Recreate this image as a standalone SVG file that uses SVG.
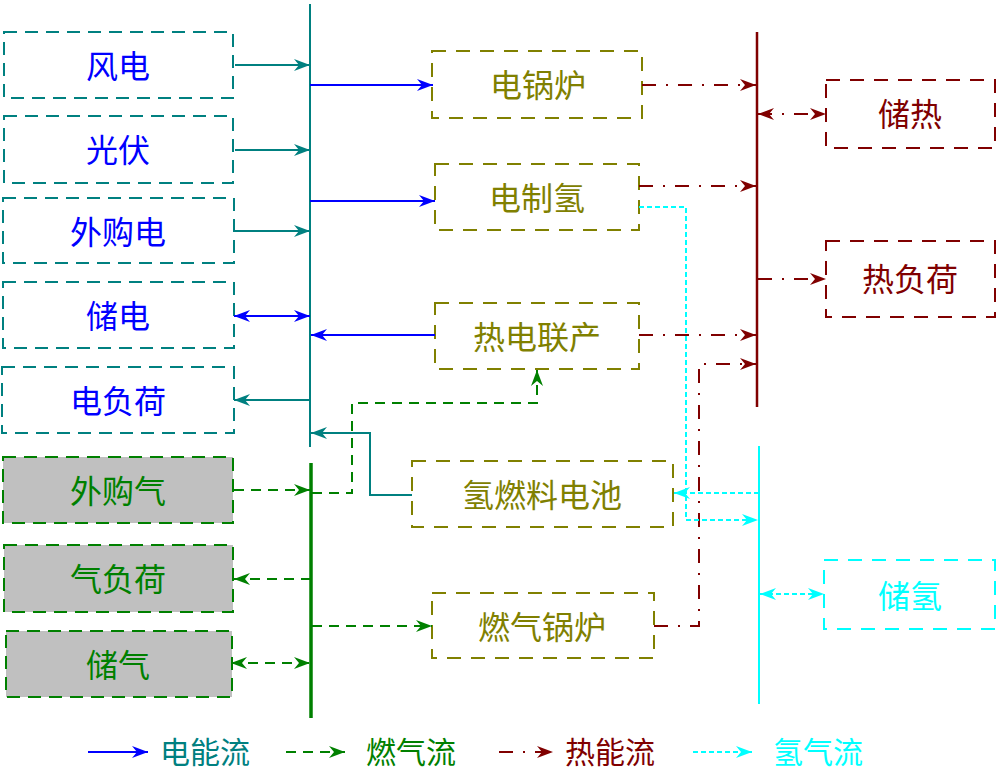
<svg xmlns="http://www.w3.org/2000/svg" width="1000" height="771" viewBox="0 0 1000 771">
<style>
text{font-family:"Noto Sans CJK SC","Noto Sans",sans-serif;font-size:32px;text-anchor:middle;dominant-baseline:central}
.lg{font-size:30px}
.nb{fill:#fff;stroke:#008080;stroke-width:2;stroke-dasharray:13 8}
.ng{fill:#C0C0C0;stroke:#008000;stroke-width:2;stroke-dasharray:13 8}
.no{fill:#fff;stroke:#808000;stroke-width:2;stroke-dasharray:14 10}
.nm{fill:#fff;stroke:#800000;stroke-width:2;stroke-dasharray:14 10}
.nc{fill:#fff;stroke:#00FFFF;stroke-width:2;stroke-dasharray:14 10}
.tb{fill:#0000FF}.tg{fill:#008000}.to{fill:#808000}.tm{fill:#800000}.tc{fill:#00FFFF}.tt{fill:#008080}
.c{fill:none;stroke-width:2}
.ce{stroke:#0000FF}
.ct{stroke:#008080}
.cg{stroke:#008000;stroke-dasharray:10 7}
.cm{stroke:#800000;stroke-dasharray:14 10 2 10}
.cc{stroke:#00FFFF;stroke-dasharray:5 3}
</style>
<defs>
<marker id="aB" markerUnits="userSpaceOnUse" markerWidth="16" markerHeight="12" refX="16" refY="6" orient="auto-start-reverse"><path d="M0,0 L16,6 L0,12 L5,6 z" fill="#0000FF"/></marker>
<marker id="aT" markerUnits="userSpaceOnUse" markerWidth="16" markerHeight="12" refX="16" refY="6" orient="auto-start-reverse"><path d="M0,0 L16,6 L0,12 L5,6 z" fill="#008080"/></marker>
<marker id="aG" markerUnits="userSpaceOnUse" markerWidth="16" markerHeight="12" refX="16" refY="6" orient="auto-start-reverse"><path d="M0,0 L16,6 L0,12 L5,6 z" fill="#008000"/></marker>
<marker id="aM" markerUnits="userSpaceOnUse" markerWidth="16" markerHeight="12" refX="16" refY="6" orient="auto-start-reverse"><path d="M0,0 L16,6 L0,12 L5,6 z" fill="#800000"/></marker>
<marker id="aC" markerUnits="userSpaceOnUse" markerWidth="16" markerHeight="12" refX="16" refY="6" orient="auto-start-reverse"><path d="M0,0 L16,6 L0,12 L5,6 z" fill="#00FFFF"/></marker>
</defs>

<g id="buses">
<line x1="310" y1="4" x2="310" y2="447" stroke="#008080" stroke-width="2"/>
<line x1="311" y1="463" x2="311" y2="718" stroke="#008000" stroke-width="3.5"/>
<line x1="757" y1="32" x2="757" y2="407" stroke="#800000" stroke-width="2.5"/>
<line x1="759" y1="446" x2="759" y2="704" stroke="#00FFFF" stroke-width="2"/>
</g>

<g id="n-fengdian"><rect class="nb" x="4" y="32" width="229" height="66"/><text class="tb" x="118" y="64">风电</text></g>
<g id="n-guangfu"><rect class="nb" x="4" y="116" width="229" height="67"/><text class="tb" x="118" y="148">光伏</text></g>
<g id="n-waigoudian"><rect class="nb" x="3" y="198" width="231" height="65"/><text class="tb" x="118" y="230">外购电</text></g>
<g id="n-chudian"><rect class="nb" x="3" y="282" width="231" height="66"/><text class="tb" x="118" y="314">储电</text></g>
<g id="n-dianfuhe"><rect class="nb" x="2" y="367" width="232" height="66"/><text class="tb" x="118" y="399">电负荷</text></g>
<g id="n-waigouqi"><rect class="ng" x="3" y="457" width="230" height="66"/><text class="tg" x="118" y="489">外购气</text></g>
<g id="n-qifuhe"><rect class="ng" x="4" y="545" width="229" height="67"/><text class="tg" x="118" y="577">气负荷</text></g>
<g id="n-chuqi"><rect class="ng" x="6" y="631" width="226" height="66"/><text class="tg" x="118" y="663">储气</text></g>

<g id="n-dianguolu"><rect class="no" x="432" y="51" width="210" height="67"/><text class="to" x="538" y="83">电锅炉</text></g>
<g id="n-dianzhiqing"><rect class="no" x="435" y="164" width="204" height="66"/><text class="to" x="537" y="196">电制氢</text></g>
<g id="n-redianlianchan"><rect class="no" x="435" y="303" width="204" height="66"/><text class="to" x="537" y="335">热电联产</text></g>
<g id="n-qingranliao"><rect class="no" x="412" y="461" width="261" height="66"/><text class="to" x="542" y="493">氢燃料电池</text></g>
<g id="n-ranqiguolu"><rect class="no" x="432" y="593" width="222" height="65"/><text class="to" x="542" y="625">燃气锅炉</text></g>

<g id="n-chure"><rect class="nm" x="826" y="80" width="169" height="68"/><text class="tm" x="910" y="112">储热</text></g>
<g id="n-refuhe"><rect class="nm" x="826" y="241" width="169" height="76"/><text class="tm" x="910" y="277">热负荷</text></g>
<g id="n-chuqing"><rect class="nc" x="824" y="560" width="171" height="69"/><text class="tc" x="910" y="594">储氢</text></g>

<g id="connectors">
<line class="c ct" x1="235" y1="65" x2="310" y2="65" marker-end="url(#aT)"/>
<line class="c ct" x1="235" y1="150" x2="310" y2="150" marker-end="url(#aT)"/>
<line class="c ct" x1="235" y1="231" x2="310" y2="231" marker-end="url(#aT)"/>
<line class="c ce" x1="234" y1="316" x2="310" y2="316" marker-start="url(#aB)" marker-end="url(#aB)"/>
<line class="c ct" x1="310" y1="400" x2="234" y2="400" marker-end="url(#aT)"/>
<line class="c ce" x1="310" y1="85" x2="433" y2="85" marker-end="url(#aB)"/>
<line class="c ce" x1="310" y1="201" x2="435" y2="201" marker-end="url(#aB)"/>
<line class="c ce" x1="435" y1="335" x2="311" y2="335" marker-end="url(#aB)"/>
<polyline class="c ct" points="412,495 370,495 370,433 311,433" marker-end="url(#aT)"/>

<line class="c cg" x1="234" y1="490" x2="310" y2="490" marker-end="url(#aG)"/>
<line class="c cg" x1="311" y1="579" x2="234" y2="579" marker-end="url(#aG)"/>
<line class="c cg" x1="231" y1="663" x2="310" y2="663" marker-start="url(#aG)" marker-end="url(#aG)"/>
<polyline class="c cg" points="312,493 352,493 352,403 537,403 537,370" marker-end="url(#aG)"/>
<line class="c cg" x1="312" y1="626" x2="432" y2="626" marker-end="url(#aG)"/>

<line class="c cm" x1="642" y1="85" x2="756" y2="85" marker-end="url(#aM)"/>
<line class="c cm" x1="639" y1="186" x2="756" y2="186" marker-end="url(#aM)"/>
<line class="c cm" x1="639" y1="335" x2="756" y2="335" marker-end="url(#aM)"/>
<polyline class="c cm" points="654,626 699,626 699,364 756,364" marker-end="url(#aM)"/>
<line class="c cm" x1="758" y1="114" x2="826" y2="114" marker-start="url(#aM)" marker-end="url(#aM)"/>
<line class="c cm" x1="758" y1="279" x2="826" y2="279" marker-end="url(#aM)"/>

<polyline class="c cc" points="639,207 686,207 686,520 758,520" marker-end="url(#aC)"/>
<line class="c cc" x1="759" y1="493" x2="674" y2="493" marker-end="url(#aC)"/>
<line class="c cc" x1="760" y1="594" x2="824" y2="594" marker-start="url(#aC)" marker-end="url(#aC)"/>
</g>

<g id="legend">
<line class="c ce" x1="88" y1="752" x2="148" y2="752" marker-end="url(#aB)"/>
<text class="tt lg" x="205" y="750">电能流</text>
<line class="c cg" x1="286" y1="752" x2="345" y2="752" marker-end="url(#aG)"/>
<text class="tg lg" x="411" y="750">燃气流</text>
<line class="c cm" x1="499" y1="752" x2="553" y2="752" marker-end="url(#aM)"/>
<text class="tm lg" x="610" y="750">热能流</text>
<line class="c cc" x1="693" y1="752" x2="752" y2="752" marker-end="url(#aC)"/>
<text class="tc lg" x="818" y="750">氢气流</text>
</g>
</svg>
